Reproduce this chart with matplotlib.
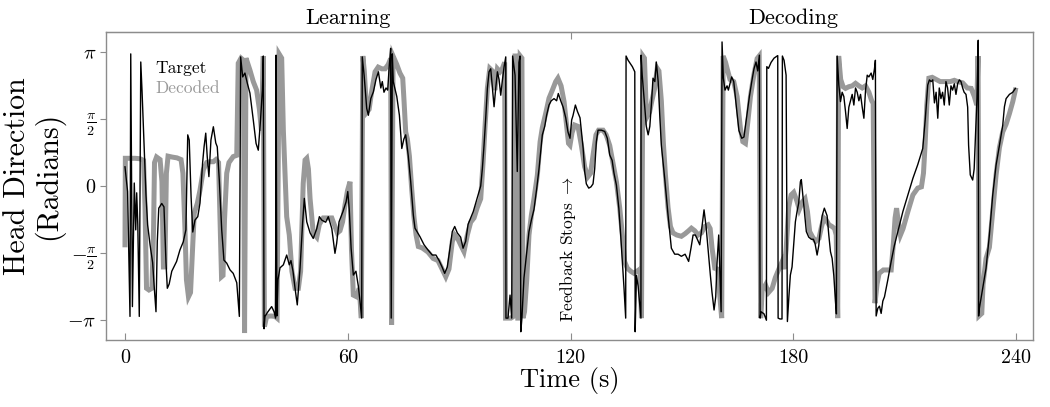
import matplotlib
matplotlib.use('Agg')
import matplotlib.pyplot as plt
import numpy as np

plt.rcParams['font.family'] = 'cmr10'
plt.rcParams['mathtext.fontset'] = 'cm'
plt.rcParams['axes.unicode_minus'] = False

# Target head direction (black): time [s], angle [rad]
TARGET_T = [0.0, 0.7, 1.35, 1.55, 2.0, 2.5, 2.9, 3.15, 3.45, 3.85, 4.25, 4.6, 5.05, 5.65,
            6.1, 6.75, 7.45, 7.9, 8.35, 8.7, 9.1, 9.9, 10.5, 11.05, 11.4, 11.9, 12.6, 13.9,
            14.8, 15.7, 16.4, 16.9, 17.3, 17.8, 18.25, 18.85, 19.6, 20.2, 20.9, 21.3, 21.75,
            22.15, 22.6, 23.15, 23.8, 24.45, 24.85, 25.4, 26.05, 26.65, 27.4, 28.3, 29.15,
            30.1, 30.8, 31.15, 31.7, 32.3, 32.95, 33.65, 34.55, 35.3, 35.9, 36.5, 37.0, 37.25,
            37.45, 37.7, 38.5, 39.5, 40.15, 40.55, 40.7, 40.9, 41.2, 41.75, 42.65, 43.55,
            44.25, 44.7, 45.25, 45.8, 46.4, 47.15, 47.85, 48.3, 48.95, 49.85, 50.7, 51.65,
            52.35, 53.0, 54.05, 54.75, 55.7, 56.55, 57.0, 57.65, 58.7, 59.55, 60.0, 60.4,
            60.9, 61.5, 62.2, 62.85, 63.3, 63.75, 63.9, 64.4, 65.1, 65.55, 66.2, 66.9, 67.6,
            68.25, 68.9, 69.3, 69.75, 70.3, 70.75, 71.2, 71.55, 71.7, 72.0, 72.25, 73.2,
            73.9, 74.55, 75.1, 75.6, 76.3, 76.95, 77.65, 78.1, 79.45, 80.55, 81.6, 82.75,
            83.75, 84.6, 85.4, 86.1, 86.8, 87.55, 88.15, 88.8, 89.5, 90.4, 91.05, 91.75,
            92.4, 93.1, 93.8, 95.1, 95.8, 96.25, 96.7, 97.15, 97.6, 98.05, 98.5, 98.95,
            99.4, 99.85, 100.3, 100.75, 101.2, 101.6, 102.1, 102.55, 102.6, 103.15, 103.7,
            104.15, 104.4, 105.05, 105.65, 106.1, 106.4, 106.6, 106.9, 107.45, 108.2, 108.8,
            109.45, 110.15, 110.9, 111.5, 111.95, 112.4, 113.05, 113.55, 114.2, 114.8,
            115.55, 116.25, 116.7, 117.35, 118.0, 118.7, 119.3, 119.85, 120.3, 120.65,
            121.3, 121.85, 122.55, 123.4, 123.8, 124.25, 124.9, 125.5, 126.05, 126.5,
            126.95, 127.4, 128.3, 129.2, 129.9, 130.55, 131.2, 131.7, 132.35, 133.0, 133.5,
            133.95, 134.4, 134.85, 134.95, 135.5, 136.1, 136.65, 137.3, 137.4, 137.75,
            138.2, 138.65, 138.95, 139.0, 139.3, 139.8, 140.4, 140.9, 141.35, 141.8, 142.2,
            142.7, 143.1, 143.6, 144.0, 144.45, 145.35, 146.25, 147.15, 148.05, 148.95,
            149.85, 150.85, 151.8, 152.45, 153.0, 153.6, 154.15, 154.8, 155.4, 155.95,
            156.5, 157.05, 157.65, 158.1, 158.65, 159.1, 159.45, 159.9, 160.2, 160.55,
            160.8, 161.15, 161.6, 162.15, 162.5, 162.95, 163.4, 163.95, 164.3, 164.75,
            165.35, 166.1, 166.7, 167.25, 168.15, 168.8, 169.4, 169.95, 170.4, 170.85,
            171.05, 171.3, 172.1, 172.75, 172.85, 173.3, 174.0, 174.8, 175.8, 175.9, 176.4,
            176.95, 177.05, 177.5, 178.05, 178.4, 178.8, 179.2, 179.65, 180.0, 180.55,
            181.0, 181.45, 181.9, 182.15, 182.6, 183.1, 183.5, 184.15, 184.85, 185.4,
            185.85, 186.4, 186.85, 187.3, 187.75, 188.35, 189.1, 189.55, 190.0, 190.45,
            190.9, 191.35, 191.6, 191.8, 192.25, 192.7, 193.15, 193.6, 194.05, 194.5,
            194.95, 195.4, 195.85, 196.3, 196.75, 197.2, 197.65, 198.1, 198.55, 199.0,
            199.45, 199.9, 200.35, 200.95, 201.4, 201.85, 202.1, 202.3, 202.75, 203.2,
            203.65, 204.1, 204.55, 205.45, 206.35, 207.2, 208.15, 209.5, 210.85, 212.2,
            213.5, 214.85, 215.55, 216.2, 216.65, 217.1, 217.55, 218.0, 218.45, 218.9,
            219.3, 219.75, 220.2, 220.65, 221.1, 221.55, 222.0, 222.45, 222.9, 223.35,
            223.8, 224.25, 224.7, 225.15, 225.6, 226.0, 226.5, 226.95, 227.2, 227.65,
            228.3, 228.7, 229.2, 229.45, 229.8, 229.9, 230.1, 231.0, 231.9, 232.8, 233.7,
            234.6, 235.5, 236.4, 236.85, 237.3, 238.2, 239.1, 239.8]
TARGET_Y = [0.45, -0.13, -3.06, 3.10, -2.83, 0.07, -1.03, -0.16, -0.9, -3.06, 2.91, 2.21, 1.2, -0.21,
            -0.91, -1.38, -1.8, -2.4, -2.95, -1.3, -0.52, -0.41, -0.49, -1.81, -2.4, -2.3, -2.0, -1.77,
            -1.5, -1.31, -1.03, 1.2, 1.08, -0.25, -1.08, -0.8, -0.72, -0.4, 0.54, 0.92, 1.24,
            0.69, 0.22, 1.08, 1.39, 1.01, 0.92, 0.14, -1.03, -1.74, -1.81, -1.97, -2.05,
            -2.27, -3.06, 3.03, 2.56, 2.65, 2.41, 2.18, 1.55, 1.0, 0.84, 1.55, 2.25, 3.05,
            -3.35, -3.06, -2.95, -2.83, -2.95, -3.1, 3.07, -3.05, -2.2, -1.92, -1.85, -1.62,
            -1.85, -1.75, -2.0, -2.4, -2.79, -1.92, -0.85, -0.29, -0.84, -1.1, -1.23, -1.0,
            -0.72, -0.8, -0.85, -0.72, -1.0, -1.58, -1.35, -0.84, -0.6, -0.37, -0.13, -0.55,
            -1.46, -2.09, -2.0, -2.35, -2.71, -3.1, 3.03, 2.6, 1.82, 1.66, 2.05, 2.21, 2.5,
            2.68, 2.3, 2.45, 2.2, 2.3, 2.25, 2.85, 3.23, -3.1, 3.1, 2.45, 2.1,
            1.66, 0.88, 1.1, 1.2, 0.7, 0.1, -0.68, -0.99, -1.19, -1.38, -1.5, -1.62,
            -1.62, -1.75, -1.9, -2.05, -1.9, -1.45, -1.07, -0.95, -1.1, -1.2, -1.46, -1.3,
            -0.9, -0.75, -0.6, -0.21, 0.0, 0.41, 0.96, 1.59, 2.29, 2.68, 2.75, 2.3,
            1.86, 2.3, 2.68, 2.5, 2.13, 2.45, 2.8, 3.03, -3.1, -3.1, -2.56,
            -3.1, 3.05, 2.6, 0.34, 2.9, 3.05, -3.42, -3.1, -2.16, -1.55, -1.07,
            -0.8, -0.55, -0.05, 0.4, 0.8, 1.2, 1.4, 1.66, 1.9, 2.0,
            2.05, 2.0, 2.17, 2.0, 1.85, 1.6, 1.27, 1.12, 1.55, 1.65,
            1.9, 1.75, 1.6, 0.88, 0.34, 0.05, -0.05, -0.02, 0.05, 0.4,
            1.04, 1.31, 1.31, 1.28, 1.12, 0.73, 0.6, 0.3, 0.02, -0.52, -1.15,
            -1.77, -2.4, -3.1, 3.05, 2.95, 2.87, 2.8, 2.68, -3.42, -2.1,
            -2.35, -2.8, -3.1, 3.07, 2.6, 2.06, 1.4, 1.2, 1.4, 1.95, 2.53,
            2.45, 2.91, 2.45, 1.7, 0.96, 0.18, -0.68, -1.46, -1.6, -1.6,
            -1.65, -1.6, -1.77, -1.45, -1.15, -1.15, -1.25, -1.38, -0.95, -0.56,
            -0.95, -1.5, -2.09, -2.5, -2.91, -2.6, -1.8, -1.15, -2.0, -2.95,
            3.38, 2.53, 2.25, 2.35, 2.25, 2.4, 2.56, 2.45, 2.15, 1.78,
            1.3, 1.12, 1.15, 1.5, 2.09, 2.45, 2.75, 2.91, 2.7, 3.07,
            -3.1, -2.95, -3.0, -3.15, 2.8, 2.76, 2.9, 3.0, 3.06, -3.1, -3.12,
            -3.12, 3.05, 2.95, 2.6, -3.18, -2.6, -2.09, -1.9, -1.5, -0.84,
            -0.6, -0.4, 0.1, 0.15, -0.25, -0.7, -1.07, -1.2, -1.25, -1.25,
            -1.35, -1.62, -1.4, -1.0, -0.7, -0.52, -0.7, -1.15, -1.54, -1.7,
            -2.1, -2.71, -3.0, 3.05, 2.37, 1.98, 2.2, 2.1, 1.75, 1.35,
            1.85, 2.0, 2.15, 1.9, 2.3, 2.2, 2.0, 2.15, 1.85, 1.59,
            2.25, 2.6, 2.56, 2.65, 2.5, 2.75, 2.95, -3.05, -2.87, -2.82,
            -2.99, -2.7, -2.6, -2.2, -1.77, -1.4, -1.07, -0.6, -0.21, 0.18,
            0.5, 0.88, 1.59, 2.37, 2.49, 2.45, 2.49, 1.95, 2.2, 1.59,
            2.3, 2.05, 2.2, 1.9, 2.45, 2.3, 1.9, 2.35, 2.25, 2.4,
            2.15, 2.4, 2.49, 2.45, 2.3, 2.2, 2.15, 1.85, 0.96, 0.26,
            0.14, 0.4, 1.5, 2.05, 3.42, -3.05, -2.87, -2.4, -1.93, -1.15, -0.21,
            0.49, 0.95, 1.43, 1.86, 2.05, 2.15, 2.2, 2.29]

# Decoded head direction (grey): time [s], angle [rad]
DECODED_T = [0.0, 0.1, 1.35, 2.7, 4.05, 5.0, 5.4, 5.8, 6.45, 7.25, 7.7, 7.95, 8.5, 9.45,
             9.95, 10.35, 10.75, 11.15, 11.6, 12.65, 14.0, 15.1, 15.6, 16.15, 16.55, 17.1,
             17.65, 18.2, 18.65, 19.5, 20.2, 21.1, 22.0, 22.9, 23.8, 24.5, 25.2, 25.6, 26.0,
             26.4, 26.8, 27.4, 28.0, 29.15, 30.1, 30.5, 31.25, 31.9, 32.2, 32.6, 33.65,
             34.55, 35.45, 36.2, 36.75, 37.25, 37.55, 38.15, 39.35, 40.4, 40.95, 41.5, 42.2,
             42.65, 43.55, 44.25, 44.95, 45.8, 46.7, 47.3, 48.0, 48.5, 48.95, 49.4, 49.85,
             50.7, 51.65, 52.35, 53.4, 54.75, 55.7, 56.55, 57.2, 57.9, 58.6, 59.25, 59.95,
             60.6, 61.0, 61.5, 62.4, 63.1, 63.65, 64.05, 64.45, 64.85, 65.2, 65.75, 66.4,
             67.35, 68.2, 69.15, 70.05, 70.9, 71.55, 71.8, 72.2, 73.2, 74.05, 74.8, 75.15,
             75.6, 76.05, 76.6, 77.2, 77.85, 78.4, 79.0, 80.0, 81.6, 83.0, 84.3, 85.4, 86.4,
             87.25, 88.15, 88.8, 89.7, 90.5, 91.3, 92.2, 93.1, 94.0, 94.9, 95.8, 96.45,
             96.95, 97.6, 98.25, 98.95, 99.6, 100.3, 101.0, 101.6, 102.25, 102.5, 103.15,
             103.95, 104.8, 105.05, 105.6, 105.8, 106.25, 106.45, 106.9, 107.2, 107.6,
             108.2, 108.8, 109.45, 110.15, 111.05, 111.8, 112.4, 113.3, 114.2, 115.1, 116.0,
             116.6, 117.45, 118.25, 118.95, 119.45, 119.85, 120.4, 121.1, 122.0, 122.9,
             123.8, 124.7, 125.4, 126.1, 126.85, 127.55, 128.75, 129.6, 130.55, 131.4,
             132.35, 133.25, 133.95, 134.55, 135.3, 136.2, 137.1, 137.9, 138.7, 139.1,
             139.5, 139.9, 140.45, 141.3, 141.9, 142.65, 143.35, 143.8, 144.45, 145.0,
             145.55, 146.25, 146.9, 147.6, 148.6, 149.85, 150.85, 151.8, 152.55, 153.45,
             154.35, 155.25, 156.15, 157.05, 157.6, 158.1, 158.85, 159.6, 160.7, 161.1,
             161.75, 162.15, 162.95, 163.95, 164.85, 165.75, 166.4, 167.1, 167.8, 168.45,
             169.35, 170.25, 170.8, 171.2, 171.6, 172.5, 173.3, 174.3, 175.15, 176.1, 177.0,
             177.5, 178.05, 178.75, 179.4, 180.1, 180.95, 181.6, 182.45, 183.15, 183.8,
             184.4, 185.2, 186.05, 186.9, 187.6, 188.25, 188.85, 189.6, 190.4, 191.1,
             191.55, 191.95, 192.2, 192.75, 193.4, 194.05, 194.95, 195.85, 196.75, 197.65,
             198.55, 199.45, 200.35, 201.1, 201.5, 202.0, 202.55, 203.1, 204.25, 205.25,
             206.35, 206.95, 207.4, 207.8, 208.2, 208.85, 209.55, 210.85, 212.2, 213.5,
             214.5, 215.05, 215.5, 215.95, 216.5, 217.4, 218.45, 219.55, 220.9, 222.25,
             223.35, 224.25, 225.6, 226.85, 227.9, 228.75, 229.4, 229.75, 230.0, 230.75,
             231.1, 231.9, 232.8, 233.7, 234.6, 235.5, 236.4, 237.3, 238.2, 239.1, 239.8]
DECODED_Y = [-1.38, 0.65, 0.65, 0.65, 0.64, 0.6, -0.5, -2.4, -2.44, -2.4, -1.0, 0.55, 0.68, 0.62,
             0.1, -1.9, -1.9, 0.3, 0.7, 0.68, 0.66, 0.62, 0.3, -1.0, -2.2, -2.6,
             -2.5, -1.5, -0.64, -0.4, -0.1, 0.38, 0.55, 0.57, 0.57, 0.62, 0.55, -0.8, -2.13,
             -2.1, -0.8, 0.3, 0.55, 0.69, 0.72, 2.88, 3.0, 2.95, -3.45, 3.0, 2.72,
             2.45, 2.25, 1.8, 1.3, 3.05, -3.3, -3.06, -3.05, -3.06, -3.1, 3.1, 3.0,
             1.31, -0.72, -1.15, -2.0, -2.4, -2.4, -2.0, 0.06, 0.61, 0.65, 0.4, -0.3,
             -1.1, -1.2, -0.9, -0.75, -0.75, -0.75, -0.95, -1.1, -1.05, -0.84, -0.45, -0.1,
             0.1, -1.5, -2.56, -2.6, -2.4, -3.1, 3.05, 2.7, 2.1, 1.74, 1.8, 2.2,
             2.68, 2.79, 2.75, 2.75, 2.85, 2.99, -3.26, 3.05, 2.85, 2.65, 2.53, 2.0,
             1.27, 1.1, 0.7, -0.05, -0.75, -1.15, -1.42, -1.45, -1.55, -1.7, -1.75, -1.95, -2.13,
             -1.95, -1.3, -1.15, -1.25, -1.4, -1.54, -1.15, -0.85, -0.75, -0.5, -0.3, 0.57,
             1.37, 2.3, 2.76, 2.7, 2.25, 2.75, 2.68, 2.75, 2.9, -3.1, -3.1,
             -3.1, -3.05, 3.05, 3.05, -3.1, -3.1, 3.05, 3.0, -3.1, -2.95,
             -2.2, -1.15, -0.68, -0.3, 0.25, 1.04, 1.37, 1.7, 2.06, 2.25, 2.45,
             2.53, 2.35, 1.98, 1.4, 1.0, 0.96, 1.25, 1.43, 1.4, 0.96,
             0.45, 0.22, 0.3, 0.75, 1.2, 1.31, 1.31, 1.2, 0.95, 0.55,
             0.1, -0.52, -1.15, -1.77, -1.93, -2.0, -2.05, -2.0, -1.95, -3.1,
             3.05, 3.0, 1.6, 1.74, 2.0, 2.29, 2.76, 2.7, 2.0, 1.0,
             0.26, -0.5, -0.95, -1.1, -1.15, -1.18, -1.12, -1.05, -0.99, -1.05,
             -1.15, -1.1, -0.95, -0.91, -1.0, -1.45, -1.93, -1.95, -3.1, 3.05,
             2.9, 2.76, 2.5, 2.45, 2.1, 1.35, 1.04, 1.0, 1.55, 2.1,
             2.6, 2.99, 3.05, -3.1, -2.45, -2.32, -2.5, -2.4, -2.15, -1.95, -1.77,
             -1.95, -1.5, -0.5, -0.21, -0.15, -0.35, -0.55, -0.37, -0.3, -0.6,
             -1.07, -1.2, -1.3, -1.23, -0.95, -0.75, -0.8, -0.91, -0.95, -1.0,
             -1.15, -3.1, 3.05, 2.5, 2.33, 2.29, 2.33, 2.35, 2.41, 2.35,
             2.3, 2.35, 2.2, 2.0, 1.94, -2.75, -2.3, -2.05, -1.97, -1.97,
             -1.97, -1.34, -0.75, -0.52, -0.8, -1.15, -1.0, -0.6, -0.21, -0.05,
             -0.02, 0.3, 1.0, 1.9, 2.53, 2.55, 2.5, 2.45, 2.45, 2.45,
             2.48, 2.45, 2.42, 2.3, 2.29, 2.1, 1.9, 3.05, -3.05, -2.99,
             -2.3, -1.7, -1.44, -0.6, 0.26, 0.9, 1.27, 1.45, 1.7, 1.98, 2.25]

YTICKS = [-np.pi, -np.pi / 2, 0, np.pi / 2, np.pi]
YTICK_LABELS = [r'$-\pi$', r'$-\frac{\pi}{2}$', r'$0$', r'$\frac{\pi}{2}$', r'$\pi$']
XTICKS = [0, 60, 120, 180, 240]

SPINE = '#8c8c8c'
GREY = '#999999'

fig = plt.figure(figsize=(10.5, 4.07), dpi=100)
ax = fig.add_axes([0.101, 0.165, 0.883, 0.756])

ax.plot(DECODED_T, DECODED_Y, color=GREY, lw=3.6, solid_joinstyle='miter', zorder=2)
ax.plot(TARGET_T, TARGET_Y, color='black', lw=1.0, zorder=3)

ax.set_xlim(-5.1, 244.6)
ax.set_ylim(-3.61, 3.61)

ax.set_xticks(XTICKS)
ax.set_xticklabels([str(x) for x in XTICKS], fontsize=14.5)
ax.set_yticks(YTICKS)
ax.set_yticklabels(YTICK_LABELS, fontsize=14.5)
ax.tick_params(axis='x', direction='in', length=5, width=0.8, color=SPINE, pad=7)
ax.tick_params(axis='y', direction='out', length=4, width=0.8, color=SPINE, pad=3)
for sp in ax.spines.values():
    sp.set_color(SPINE)
    sp.set_linewidth(1.0)

# single tick on the top edge marking the learning/decoding split
top = ax.secondary_xaxis('top')
top.set_xticks([120])
top.set_xticklabels([])
top.tick_params(direction='in', length=5, width=0.8, color=SPINE)
top.spines['top'].set_color(SPINE)

ax.annotate('Learning', xy=(60, 1), xycoords=('data', 'axes fraction'),
            xytext=(0, 10), textcoords='offset points', ha='center', va='center', fontsize=16)
ax.annotate('Decoding', xy=(180, 1), xycoords=('data', 'axes fraction'),
            xytext=(0, 10), textcoords='offset points', ha='center', va='center', fontsize=16)

ax.text(8.1, 2.77, 'Target', color='black', fontsize=12.5, va='center', ha='left')
ax.text(8.1, 2.30, 'Decoded', color=GREY, fontsize=12.5, va='center', ha='left')

ax.text(119.3, -3.2, r'Feedback Stops $\rightarrow$', rotation=90, fontsize=12.5,
        ha='center', va='bottom')

fig.text(34 / 1050, 1 - 176 / 407, 'Head Direction\n(Radians)', rotation=90,
         ha='center', va='center', fontsize=21.5, linespacing=1.05)
fig.text(569.5 / 1050, 1 - 381 / 407, 'Time (s)', ha='center', va='center', fontsize=19)

fig.savefig('out.png', dpi=100)
